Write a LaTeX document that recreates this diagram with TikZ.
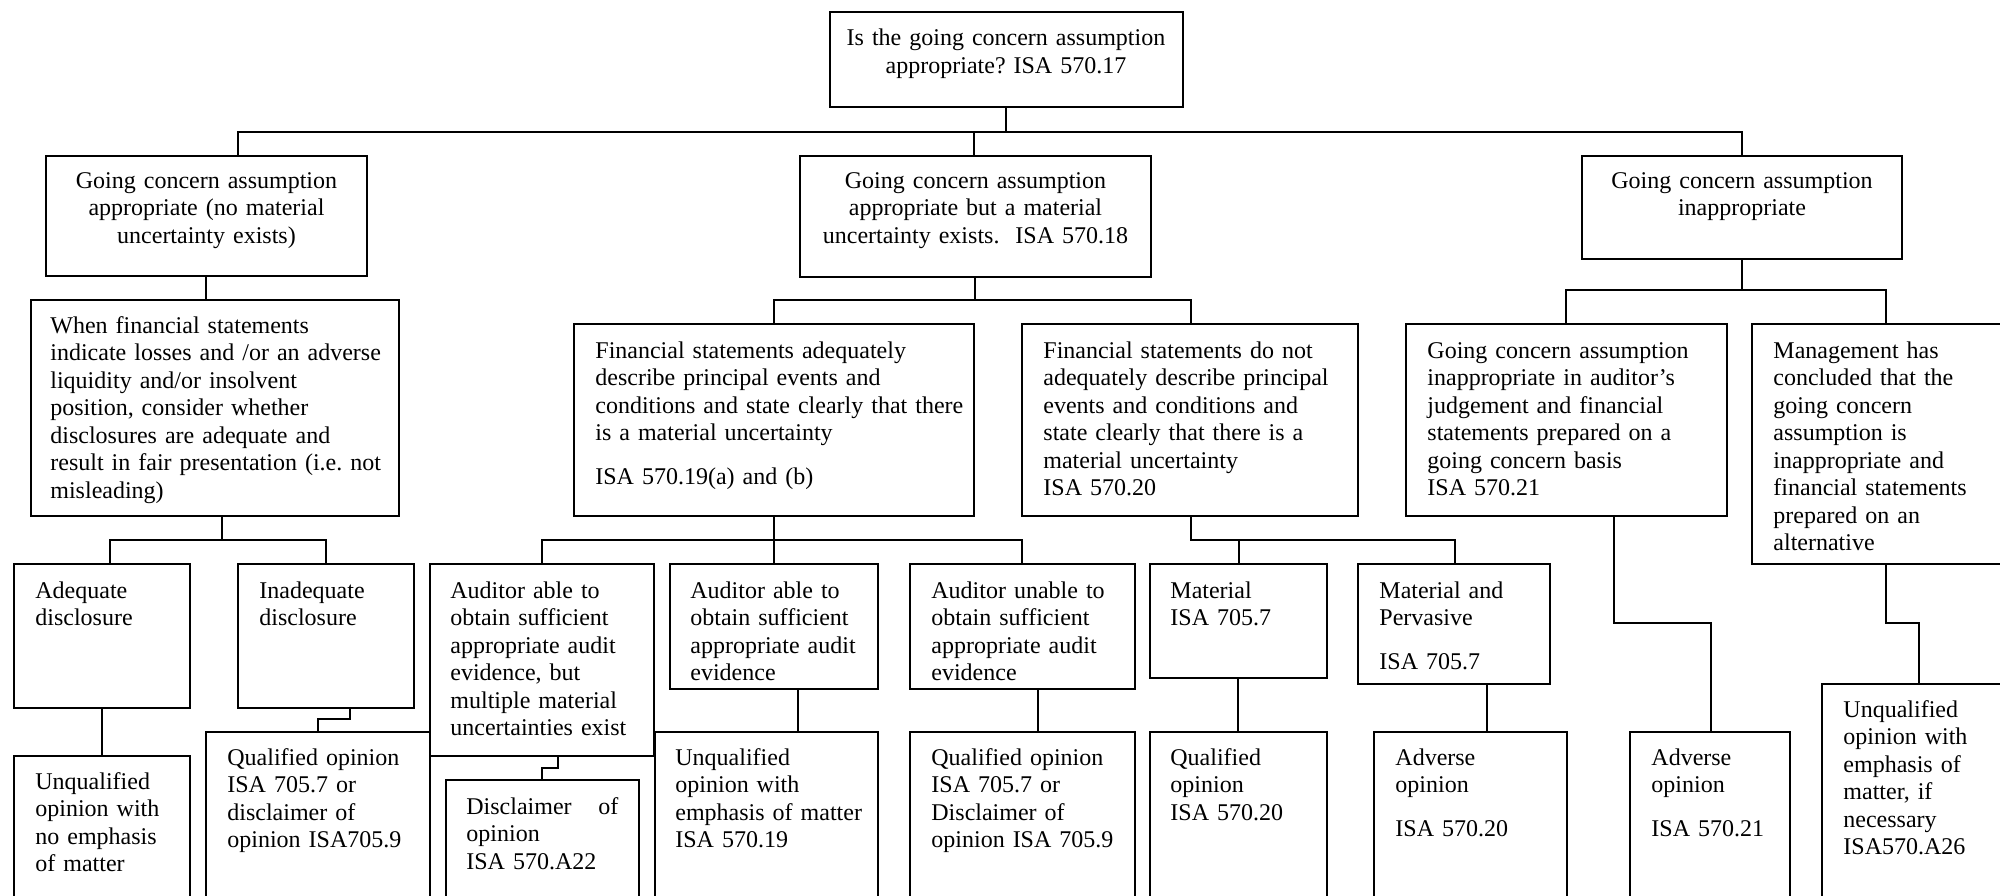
\documentclass[tikz,border=0pt]{standalone}
\usepackage{fontspec}
\setmainfont{Liberation Serif}
\usetikzlibrary{fit}
\frenchspacing
\begin{document}
\begin{tikzpicture}[x=0.5pt,y=-0.5pt,
  box/.style={draw, fill=white, line width=0.9pt, inner sep=0pt},
  conn/.style={line width=0.9pt},
  txt/.style={inner sep=0pt, anchor=base west, text width=200pt, align=left, font=\fontsize{12}{13.75}\selectfont},
  ctxt/.style={inner sep=0pt, anchor=base, text width=200pt, align=center, font=\fontsize{12}{13.75}\selectfont}]
\useasboundingbox (0,0) rectangle (2000,895);
\fill[white] (0,0) rectangle (2000,895);
\clip (0,0) rectangle (2000,895);

% ---------- boxes ----------
\node[box, fit={(830,12)(1183,107)}] (T) {};
\node[box, fit={(46,156)(367,276)}] (L1a) {};
\node[box, fit={(800,156)(1151,277)}] (L1b) {};
\node[box, fit={(1582,156)(1902,259)}] (L1c) {};
\node[box, fit={(31,300)(399,516)}] (L2a) {};
\node[box, fit={(574,324)(974,516)}] (L2b) {};
\node[box, fit={(1022,324)(1358,516)}] (L2c) {};
\node[box, fit={(1406,324)(1727,516)}] (L2d) {};
\node[box, fit={(1752,324)(2020,564)}] (L2e) {};
\node[box, fit={(14,564)(190,708)}] (L3a) {};
\node[box, fit={(238,564)(414,708)}] (L3b) {};
\node[box, fit={(14,756)(190,920)}] (L4a) {};
\node[box, fit={(206,732)(430,920)}] (L4b) {};
\node[box, fit={(430,564)(654,756)}] (L3c) {};
\node[box, fit={(446,780)(639,920)}] (L4c) {};
\node[box, fit={(670,564)(878,689)}] (L3d) {};
\node[box, fit={(655,732)(878,920)}] (L4d) {};
\node[box, fit={(910,564)(1135,689)}] (L3e) {};
\node[box, fit={(910,732)(1135,920)}] (L4e) {};
\node[box, fit={(1150,564)(1327,678)}] (L3f) {};
\node[box, fit={(1150,732)(1327,920)}] (L4f) {};
\node[box, fit={(1358,564)(1550,684)}] (L3g) {};
\node[box, fit={(1374,732)(1567,920)}] (L4g) {};
\node[box, fit={(1630,732)(1790,920)}] (L4h) {};
\node[box, fit={(1822,684)(2020,920)}] (L4i) {};

% ---------- junctions ----------
\coordinate (j0) at (1006,132);
\coordinate (ja) at (238,132);
\coordinate (jb) at (974,132);
\coordinate (jc) at (1742,132);
\coordinate (h1) at (206,300);
\coordinate (h2) at (975,300);
\coordinate (k1) at (774,300);
\coordinate (k2) at (1191,300);
\coordinate (m1) at (1566,290);
\coordinate (m2) at (1886,290);
\coordinate (n0) at (222,540);
\coordinate (n1) at (110,540);
\coordinate (n2) at (326,540);
\coordinate (p1) at (542,540);
\coordinate (p2) at (774,540);
\coordinate (p3) at (1022,540);
\coordinate (q0) at (1191,540);
\coordinate (q1) at (1239,540);
\coordinate (q2) at (1455,540);
\coordinate (r1) at (1614,623);
\coordinate (r2) at (1711,623);
\coordinate (s1) at (1886,623);
\coordinate (s2) at (1919,623);
\coordinate (t1) at (350,719);
\coordinate (t2) at (318,719);
\coordinate (u1) at (558,768);
\coordinate (u2) at (542,768);
\coordinate (v1) at (798,700);
\coordinate (w1) at (1038,700);
\coordinate (x1) at (1238,700);
\coordinate (z1) at (1487,700);

% ---------- connectors ----------
\draw[conn] (T.south -| j0) -- (j0);
\draw[conn] (L1a.north -| ja) -- (ja) -- (jc) -- (L1c.north -| jc);
\draw[conn] (jb) -- (L1b.north -| jb);
\draw[conn] (L1a.south -| h1) -- (L2a.north -| h1);
\draw[conn] (L1b.south -| h2) -- (h2);
\draw[conn] (L2b.north -| k1) -- (k1) -- (k2) -- (L2c.north -| k2);
\draw[conn] (L1c.south) -- (L1c.south |- m1);
\draw[conn] (L2d.north -| m1) -- (m1) -- (m2) -- (L2e.north -| m2);
\draw[conn] (L2a.south -| n0) -- (n0);
\draw[conn] (L3a.north -| n1) -- (n1) -- (n2) -- (L3b.north -| n2);
\draw[conn] (L2b.south -| p2) -- (p2);
\draw[conn] (L3c.north -| p1) -- (p1) -- (p3) -- (L3e.north -| p3);
\draw[conn] (p2) -- (L3d.north -| p2);
\draw[conn] (L2c.south -| q0) -- (q0) -- (q2) -- (L3g.north -| q2);
\draw[conn] (q1) -- (L3f.north -| q1);
\draw[conn] (L2d.south -| r1) -- (r1) -- (r2) -- (L4h.north -| r2);
\draw[conn] (L2e.south -| s1) -- (s1) -- (s2) -- (L4i.north -| s2);
\draw[conn] (L3a.south) -- (L4a.north);
\draw[conn] (L3b.south -| t1) -- (t1) -- (t2) -- (L4b.north -| t2);
\draw[conn] (L3c.south -| u1) -- (u1) -- (u2) -- (L4c.north -| u2);
\draw[conn] (L3d.south -| v1) -- (L4d.north -| v1);
\draw[conn] (L3e.south -| w1) -- (L4e.north -| w1);
\draw[conn] (L3f.south -| x1) -- (L4f.north -| x1);
\draw[conn] (L3g.south -| z1) -- (L4g.north -| z1);

% ---------- texts ----------
\node[ctxt] (T-t) at (1006,45.5) {Is the going concern assumption\\appropriate? ISA 570.17};
\node[ctxt] (L1a-t) at (206.5,188) {Going concern assumption\\appropriate (no material\\uncertainty exists)};
\node[ctxt] (L1b-t) at (975.5,188) {Going concern assumption\\appropriate but a material\\uncertainty exists.\ \ ISA 570.18};
\node[ctxt] (L1c-t) at (1742,188) {Going concern assumption\\inappropriate};
\node[txt] (L2a-t) at (50,333) {When financial statements\\indicate losses and /or an adverse\\liquidity and/or insolvent\\position, consider whether\\disclosures are adequate and\\result in fair presentation (i.e. not\\misleading)};
\node[txt] (L2b-t) at (595,358) {Financial statements adequately\\describe principal events and\\conditions and state clearly that there\\is a material uncertainty\\[8pt]ISA 570.19(a) and (b)};
\node[txt] (L2c-t) at (1043,358) {Financial statements do not\\adequately describe principal\\events and conditions and\\state clearly that there is a\\material uncertainty\\ISA 570.20};
\node[txt] (L2d-t) at (1427,358) {Going concern assumption\\inappropriate in auditor’s\\judgement and financial\\statements prepared on a\\going concern basis\\ISA 570.21};
\node[txt] (L2e-t) at (1773,358) {Management has\\concluded that the\\going concern\\assumption is\\inappropriate and\\financial statements\\prepared on an\\alternative};
\node[txt] (L3a-t) at (35,598) {Adequate\\disclosure};
\node[txt] (L3b-t) at (259,598) {Inadequate\\disclosure};
\node[txt] (L3c-t) at (450,598) {Auditor able to\\obtain sufficient\\appropriate audit\\evidence, but\\multiple material\\uncertainties exist};
\node[txt] (L3d-t) at (690,598) {Auditor able to\\obtain sufficient\\appropriate audit\\evidence};
\node[txt] (L3e-t) at (931,598) {Auditor unable to\\obtain sufficient\\appropriate audit\\evidence};
\node[txt] (L3f-t) at (1170,598) {Material\\ISA 705.7};
\node[txt] (L3g-t) at (1379,598) {Material and\\Pervasive\\[8pt]ISA 705.7};
\node[txt] (L4a-t) at (35,789) {Unqualified\\opinion with\\no emphasis\\of matter};
\node[txt] (L4b-t) at (227,765) {Qualified opinion\\ISA 705.7 or\\disclaimer of\\opinion ISA705.9};
\node[txt] (L4c-t) at (466,814) {\hbox to 76pt{Disclaimer\hfill of}\\opinion\\ISA 570.A22};
\node[txt] (L4d-t) at (675,765) {Unqualified\\opinion with\\emphasis of matter\\ISA 570.19};
\node[txt] (L4e-t) at (931,765) {Qualified opinion\\ISA 705.7 or\\Disclaimer of\\opinion ISA 705.9};
\node[txt] (L4f-t) at (1170,765) {Qualified\\opinion\\ISA 570.20};
\node[txt] (L4g-t) at (1395,765) {Adverse\\opinion\\[8pt]ISA 570.20};
\node[txt] (L4h-t) at (1651,765) {Adverse\\opinion\\[8pt]ISA 570.21};
\node[txt] (L4i-t) at (1843,717) {Unqualified\\opinion with\\emphasis of\\matter, if\\necessary\\ISA570.A26};
\end{tikzpicture}
\end{document}
